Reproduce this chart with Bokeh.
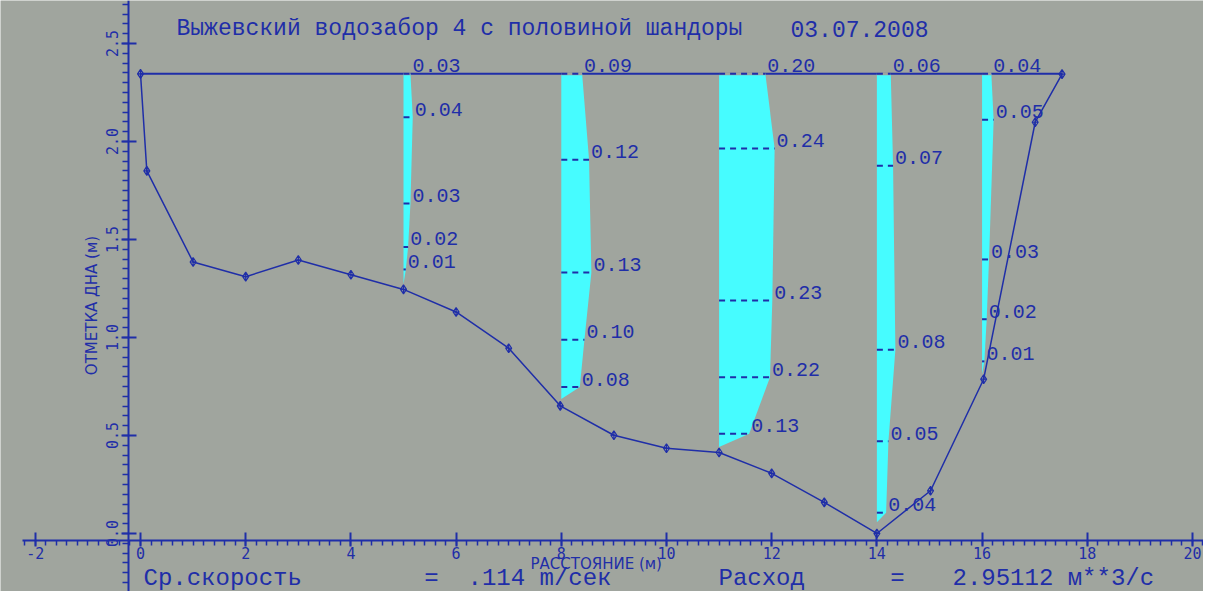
import numpy as np
from bokeh.plotting import figure
from bokeh.models import Range1d, FixedTicker, Label, PrintfTickFormatter
from bokeh.core.properties import value
from bokeh.embed import file_html
from bokeh.resources import INLINE

# ---------------- data ----------------
water_level = 2.345

bed_x = [0.0, 0.12, 1.0, 2.0, 3.0, 4.0, 5.0, 6.0, 7.0, 7.98, 9.0, 10.0, 11.0, 12.0, 13.0, 14.0, 15.02, 16.03, 17.01, 17.52]
bed_y = [2.345, 1.85, 1.385, 1.31, 1.395, 1.32, 1.245, 1.13, 0.945, 0.651, 0.501, 0.435, 0.413, 0.307, 0.159, 0.0, 0.218, 0.787, 2.098, 2.343]

vert_x = [5.0, 8.0, 11.0, 14.0, 16.0]
vert_elev = [
    [2.345, 2.123, 1.683, 1.462, 1.347],
    [2.345, 1.906, 1.331, 0.988, 0.747],
    [2.345, 1.964, 1.188, 0.797, 0.509],
    [2.345, 1.876, 0.937, 0.470, 0.106],
    [2.345, 2.111, 1.398, 1.093, 0.878],
]
vert_speed = [
    [0.03, 0.04, 0.03, 0.02, 0.01],
    [0.09, 0.12, 0.13, 0.10, 0.08],
    [0.20, 0.24, 0.23, 0.22, 0.13],
    [0.06, 0.07, 0.08, 0.05, 0.04],
    [0.04, 0.05, 0.03, 0.02, 0.01],
]
vert_bottom = [1.272, 0.686, 0.441, 0.057, 0.812]

x_major = [-2, 0, 2, 4, 6, 8, 10, 12, 14, 16, 18, 20]
y_major = [0.0, 0.5, 1.0, 1.5, 2.0, 2.5]

title_text = "Выжевский водозабор 4 с половиной шандоры"
date_text = "03.07.2008"
x_title = "РАССТОЯНИЕ  (м)"
y_title = "ОТМЕТКА ДНА (м)"
mean_speed_name = "Ср.скорость"
mean_speed_value = ".114 m/сек"
discharge_name = "Расход"
discharge_value = "2.95112 м**3/с"

# ---------------- style ----------------
BG = "#a0a59e"
BLUE = "#1f2ea8"
CYAN = "#46fcff"
K = 4.4          # x-units per (m/s) for the velocity epures
MONO = "Liberation Mono"
W, H = 1203, 591

p = figure(width=W, height=H, output_backend="svg", toolbar_location=None,
           x_range=Range1d(-2.662, 20.21), y_range=Range1d(-0.296, 2.719),
           min_border=0, background_fill_color=BG, border_fill_color=BG)
p.outline_line_color = None
p.grid.visible = False

# axes crossing inside the plot
x_minor = [round(v, 2) for v in np.arange(-2.2, 20.21, 0.2)]
y_minor = [round(v, 3) for v in np.arange(-0.3, 2.71, 0.05)]

xa = p.xaxis[0]
xa.fixed_location = -0.036
xa.bounds = (-2.243, 20.21)
xa.ticker = FixedTicker(ticks=x_major, minor_ticks=x_minor)
xa.formatter = PrintfTickFormatter(format="%d")
xa.major_tick_in = 8
xa.major_tick_out = 6
xa.minor_tick_in = 0
xa.minor_tick_out = 5
xa.major_label_standoff = 0

ya = p.yaxis[0]
ya.fixed_location = -0.228
ya.ticker = FixedTicker(ticks=y_major, minor_ticks=y_minor)
ya.formatter = PrintfTickFormatter(format="%.1f")
ya.major_tick_in = 8
ya.major_tick_out = 7
ya.minor_tick_in = 0
ya.minor_tick_out = 6
ya.major_label_standoff = 4
ya.major_label_orientation = "vertical"

for ax in (xa, ya):
    ax.axis_line_color = BLUE
    ax.axis_line_width = 2
    ax.major_tick_line_color = BLUE
    ax.major_tick_line_width = 2
    ax.minor_tick_line_color = BLUE
    ax.minor_tick_line_width = 1.5
    ax.major_label_text_color = BLUE
    ax.major_label_text_font = "DejaVu Sans Mono"
    ax.major_label_text_font_size = "15px"

# water surface
p.line([bed_x[0], bed_x[-1]], [water_level, water_level], line_color=BLUE, line_width=2)

# river bed profile
p.line(bed_x, bed_y, line_color=BLUE, line_width=1.5)

# velocity epures
xs, ys = [], []
tick_x0, tick_x1, tick_y = [], [], []
lab_x, lab_y, lab_t = [], [], []
cov_x0, cov_x1, cov_y = [], [], []
for vx, el, sp, bot in zip(vert_x, vert_elev, vert_speed, vert_bottom):
    xs.append([vx] + [vx + v * K for v in sp] + [vx])
    ys.append([el[0]] + list(el) + [bot])
    for i, (e, v) in enumerate(zip(el, sp)):
        tick_x0.append(vx)
        tick_x1.append(vx + v * K)
        tick_y.append(e)
        lab_x.append(vx + v * K)
        lab_y.append(e)
        lab_t.append("%.2f" % v)
        if i == 0:
            cov_x0.append(vx)
            cov_x1.append(vx + v * K)
            cov_y.append(e)

p.patches(xs, ys, fill_color=CYAN, line_color=None)
p.segment(cov_x0, cov_y, cov_x1, cov_y, line_color=BG, line_width=3)
p.segment(tick_x0, tick_y, tick_x1, tick_y, line_color=BLUE, line_width=2, line_dash="6 5")

p.scatter(bed_x, bed_y, marker="diamond_cross", size=9, fill_color=None,
          line_color=BLUE, line_width=1.2)

p.text(lab_x, lab_y, text=lab_t, x_offset=2, y_offset=-8,
       text_font=value(MONO), text_font_size="20px", text_color=BLUE,
       text_align="left", text_baseline="middle")

# texts (positions in screen pixels from the top-left corner, vertical centres)
def lbl(txt, x, y_top, size, font=MONO, align="left", angle=0.0):
    p.add_layout(Label(x=x, y=H - y_top, x_units="screen", y_units="screen", text=txt,
                       text_font=font, text_font_size=size, text_color=BLUE,
                       text_align=align, text_baseline="middle", angle=angle))

lbl(title_text, 176, 28, "23px")
lbl(date_text, 790, 28, "23px")
lbl(x_title, 530, 563, "15px", font="DejaVu Sans")
lbl(y_title, 91, 305, "15px", font="DejaVu Sans", align="center", angle=np.pi / 2)
lbl(mean_speed_name, 143, 578, "24px")
lbl("=", 431, 578, "24px", align="center")
lbl(mean_speed_value, 467, 578, "24px")
lbl(discharge_name, 718, 578, "24px")
lbl("=", 897, 578, "24px", align="center")
lbl(discharge_value, 952, 578, "24px")

open("out.html", "w").write(file_html(p, INLINE))
